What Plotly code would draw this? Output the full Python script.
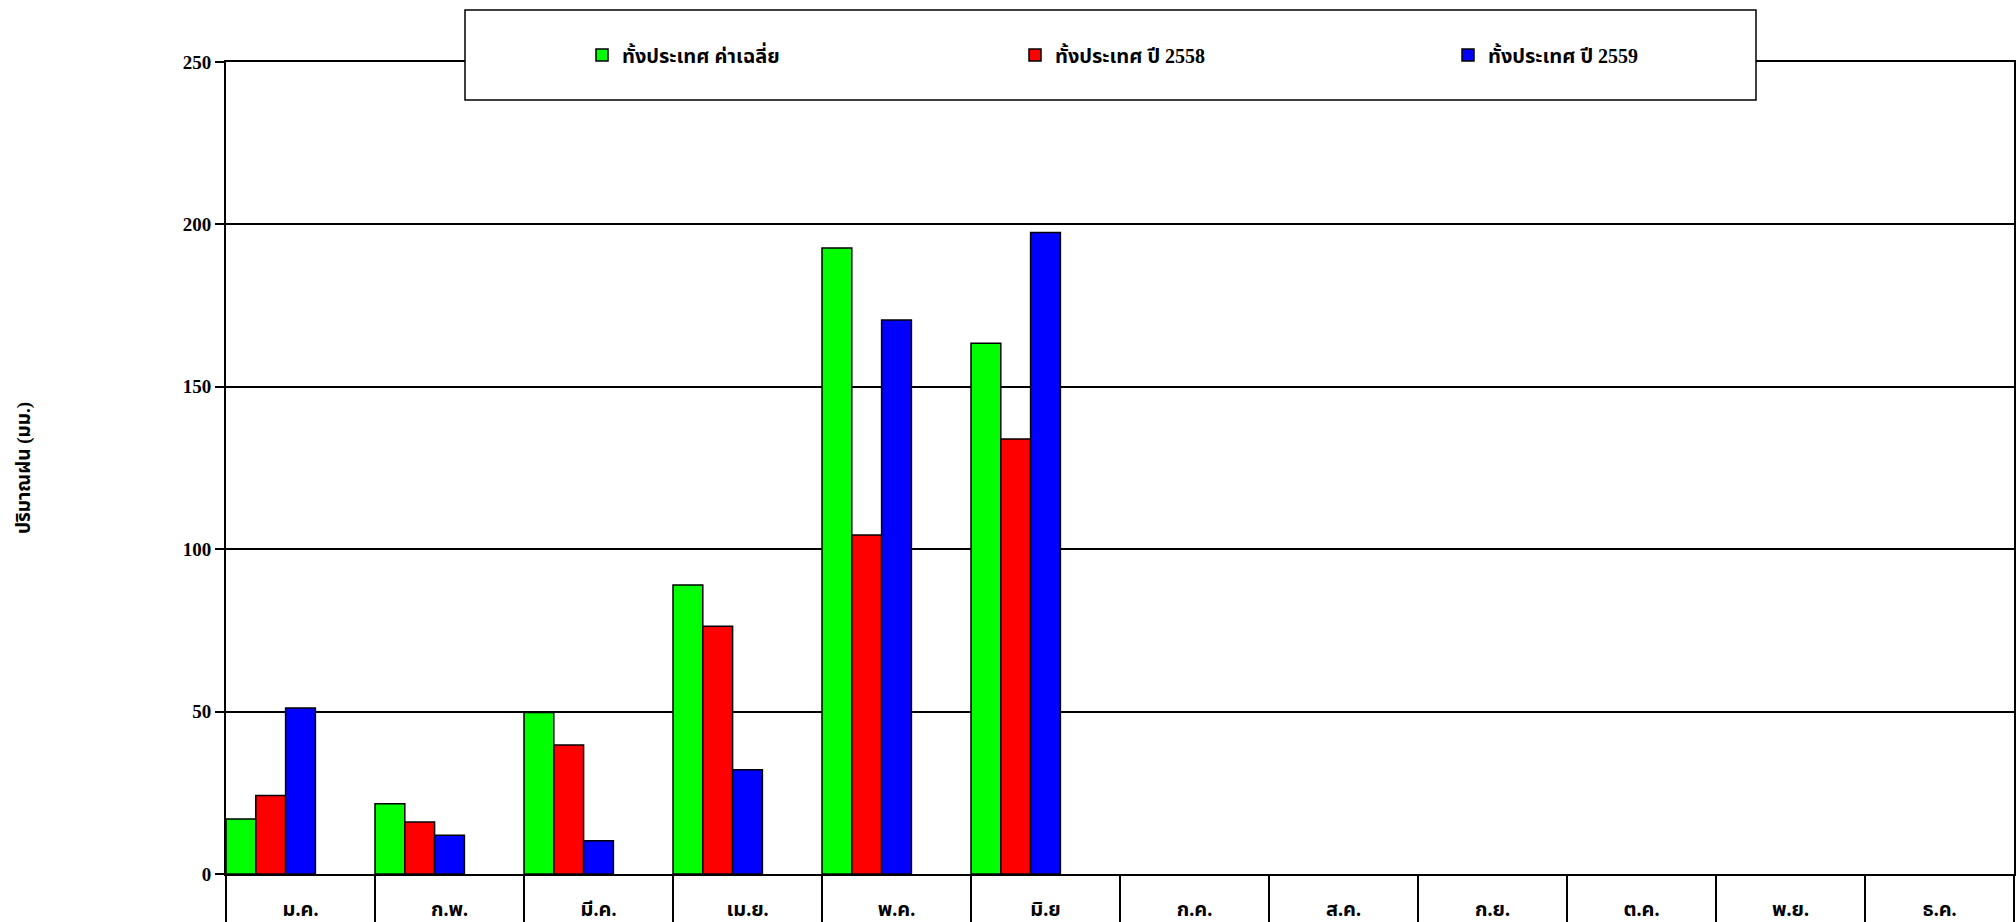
import plotly.graph_objects as go

months = ['ม.ค.', 'ก.พ.', 'มี.ค.', 'เม.ย.', 'พ.ค.', 'มิ.ย',
          'ก.ค.', 'ส.ค.', 'ก.ย.', 'ต.ค.', 'พ.ย.', 'ธ.ค.']
rain_avg = [16.9, 21.6, 49.7, 89.0, 192.7, 163.4, None, None, None, None, None, None]
rain_2558 = [24.2, 16.0, 39.7, 76.3, 104.4, 133.9, None, None, None, None, None, None]
rain_2559 = [51.1, 11.9, 10.2, 32.1, 170.6, 197.5, None, None, None, None, None, None]

series = [
    ('ทั้งประเทศ ค่าเฉลี่ย', rain_avg, '#00FF00'),
    ('ทั้งประเทศ ปี 2558', rain_2558, '#FF0000'),
    ('ทั้งประเทศ ปี 2559', rain_2559, '#0000FF'),
]

font_family = 'Liberation Serif, Noto Sans Thai, Tahoma, serif'
bold = dict(family=font_family, color='black', weight='bold')

fig = go.Figure()
for ind, (name, vals, clr) in enumerate(series):
    fig.add_trace(go.Bar(
        name=name, x=months, y=vals,
        width=0.2, offset=-0.5 + 0.2 * ind,
        marker=dict(color=clr, line=dict(color='black', width=1.5)),
    ))

fig.update_layout(
    width=2016, height=922,
    margin=dict(l=226, r=2, t=62, b=48, autoexpand=False),
    paper_bgcolor='white', plot_bgcolor='white',
    font=dict(family=font_family, size=19, color='black'),
    barmode='overlay',
    showlegend=True,
    legend=dict(
        orientation='h', xref='container', x=582 / 2016, xanchor='left',
        yref='container', y=1 - 55 / 922, yanchor='middle',
        entrywidth=388, entrywidthmode='pixels',
        bgcolor='rgba(0,0,0,0)', borderwidth=0,
        font=dict(size=20, **bold),
        traceorder='normal',
    ),
    shapes=[dict(
        type='rect', xref='paper', yref='paper',
        x0=(465 - 226) / 1788, x1=(1756 - 226) / 1788,
        y0=1 - (100 - 62) / 812, y1=1 + (62 - 10) / 812,
        line=dict(color='black', width=1.5), fillcolor='white', layer='above',
    )],
)

fig.update_xaxes(
    type='category', categoryorder='array', categoryarray=months,
    range=[-0.5, 11.5],
    showline=True, linecolor='black', linewidth=2, mirror=True,
    ticks='outside', tickson='boundaries', ticklen=50, tickcolor='black', tickwidth=1.5,
    ticklabelstandoff=16,
    tickfont=dict(size=20, **bold),
    showgrid=False,
)
fig.update_yaxes(
    range=[0, 250], dtick=50,
    showline=True, linecolor='black', linewidth=2, mirror=True,
    ticks='outside', ticklen=9, tickcolor='black', tickwidth=1.5,
    showgrid=True, gridcolor='black', gridwidth=1.5,
    zeroline=False,
    tickfont=dict(size=19, **bold),
    title=dict(text='ปริมาณฝน (มม.)', standoff=147, font=dict(size=19, **bold)),
)

fig.write_html('out.html', config=dict(displayModeBar=False),
               post_script="document.body.style.margin='0';")
